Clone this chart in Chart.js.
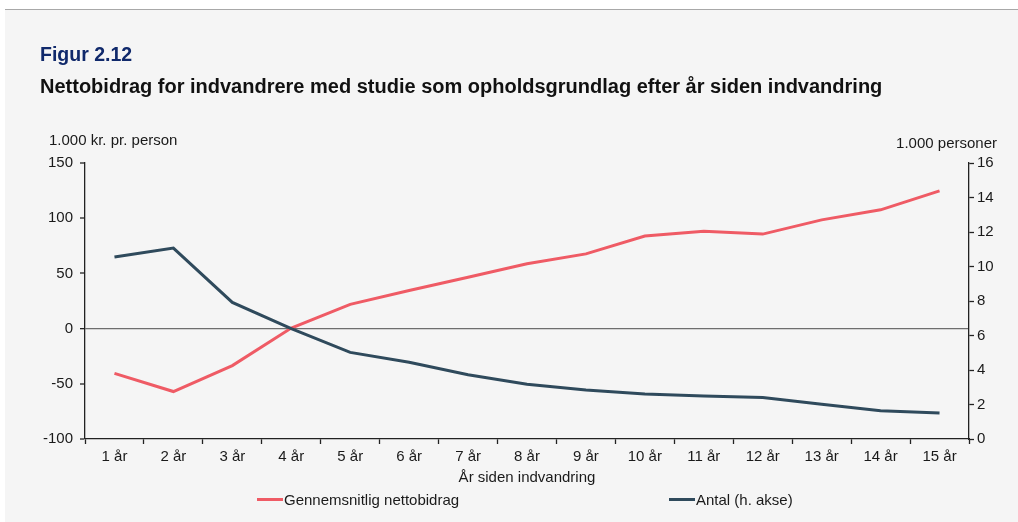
<!DOCTYPE html>
<html>
<head>
<meta charset="utf-8">
<script src="https://cdn.jsdelivr.net/npm/chart.js@4"></script>
<style>
  html, body { margin: 0; padding: 0; }
  body { width: 1018px; height: 522px; position: relative; background: #ffffff; font-family: "Liberation Sans", Arial, sans-serif; overflow: hidden; }
  #panel { position: absolute; left: 5px; top: 9px; width: 1013px; height: 513px; background: #f5f5f5; border-top: 1px solid #a8a8a8; }
  #canvasWrap { position: absolute; left: 0; top: 0; width: 1018px; height: 522px; }
  .txt { position: absolute; white-space: nowrap; color: #1a1a1a; }
  #fig { left: 40px; top: 43px; font-size: 19.5px; font-weight: bold; color: #10296b; }
  #sub { left: 40px; top: 75px; font-size: 20px; font-weight: bold; color: #111; }
  #ylab { left: 49px; top: 131px; font-size: 15px; }
  #y2lab { right: 21px; top: 134px; font-size: 15px; }
  .leg { position: absolute; top: 491px; font-size: 15px; color: #1a1a1a; display: flex; align-items: center; white-space: nowrap; }
  .leg span.sw { display: inline-block; width: 26px; height: 3px; margin-right: 1px; }
</style>
</head>
<body>
<div id="panel"></div>
<div id="canvasWrap"><canvas id="c" width="1018" height="522"></canvas></div>
<div class="txt" id="fig">Figur 2.12</div>
<div class="txt" id="sub">Nettobidrag for indvandrere med studie som opholdsgrundlag efter år siden indvandring</div>
<div class="txt" id="ylab">1.000 kr. pr. person</div>
<div class="txt" id="y2lab">1.000 personer</div>
<div class="leg" style="left:257px;"><span class="sw" style="background:#ef5b65"></span>Gennemsnitlig nettobidrag</div>
<div class="leg" style="left:669px;"><span class="sw" style="background:#2f4a5c"></span>Antal (h. akse)</div>
<script>
const categories = ["1 år","2 år","3 år","4 år","5 år","6 år","7 år","8 år","9 år","10 år","11 år","12 år","13 år","14 år","15 år"];
const nettobidrag = [-40.5, -57, -33.5, 0.5, 22, 34.5, 46.5, 58.7, 67.7, 83.8, 88.2, 85.6, 98.5, 107.6, 124.8];
const antal = [10.55, 11.07, 7.92, 6.4, 5.02, 4.45, 3.72, 3.18, 2.84, 2.61, 2.49, 2.41, 2.01, 1.64, 1.51];
const leftTicks = [-100, -50, 0, 50, 100, 150];
const rightTicks = [0, 2, 4, 6, 8, 10, 12, 14, 16];
const xTitle = "År siden indvandring";
const seriesNames = ["Gennemsnitlig nettobidrag", "Antal (h. akse)"];

const tickFont = { family: "Liberation Sans", size: 15 };
new Chart(document.getElementById("c"), {
  type: "line",
  data: {
    labels: categories,
    datasets: [
      { label: seriesNames[0], data: nettobidrag, yAxisID: "y", borderColor: "#ef5b65", borderWidth: 3, pointRadius: 0, tension: 0, order: 2 },
      { label: seriesNames[1], data: antal, yAxisID: "y2", borderColor: "#2f4a5c", borderWidth: 3, pointRadius: 0, tension: 0, order: 1 }
    ]
  },
  options: {
    responsive: false,
    animation: false,
    events: [],
    layout: { padding: { top: 163, left: 0, right: 0, bottom: 0 } },
    plugins: { legend: { display: false }, title: { display: false }, tooltip: { enabled: false } },
    scales: {
      x: {
        type: "category",
        offset: true,
        border: { display: true, color: "#222", width: 1.3 },
        grid: { display: true, offset: true, drawOnChartArea: false, drawTicks: true, tickLength: 5, tickColor: "#222", tickWidth: 1.3 },
        ticks: { color: "#1a1a1a", font: tickFont, padding: 4, maxRotation: 0, autoSkip: false },
        title: { display: true, text: xTitle, color: "#1a1a1a", font: tickFont, padding: { top: 2, bottom: 35 } },
        afterFit: s => { s.height = 83; }
      },
      y: {
        position: "left",
        min: -100, max: 150,
        afterBuildTicks: s => { s.ticks = leftTicks.map(v => ({ value: v })); },
        border: { display: true, color: "#222", width: 1.3 },
        grid: { display: true, drawOnChartArea: true, drawTicks: true, tickLength: 5,
                color: c => (c.tick && c.tick.value === 0) ? "#6e6e6e" : "rgba(0,0,0,0)",
                lineWidth: c => (c.tick && c.tick.value === 0) ? 1.3 : 0,
                tickColor: "#222", tickWidth: 1.3 },
        ticks: { color: "#1a1a1a", font: tickFont, padding: 7 },
        afterFit: s => { s.width = 85; }
      },
      y2: {
        position: "right",
        min: 0, max: 16,
        afterBuildTicks: s => { s.ticks = rightTicks.map(v => ({ value: v })); },
        border: { display: true, color: "#222", width: 1.3 },
        grid: { display: true, drawOnChartArea: false, drawTicks: true, tickLength: 5, tickColor: "#222", tickWidth: 1.3 },
        ticks: { color: "#1a1a1a", font: tickFont, padding: 3 },
        afterFit: s => { s.width = 49; }
      }
    }
  }
});
</script>
</body>
</html>
